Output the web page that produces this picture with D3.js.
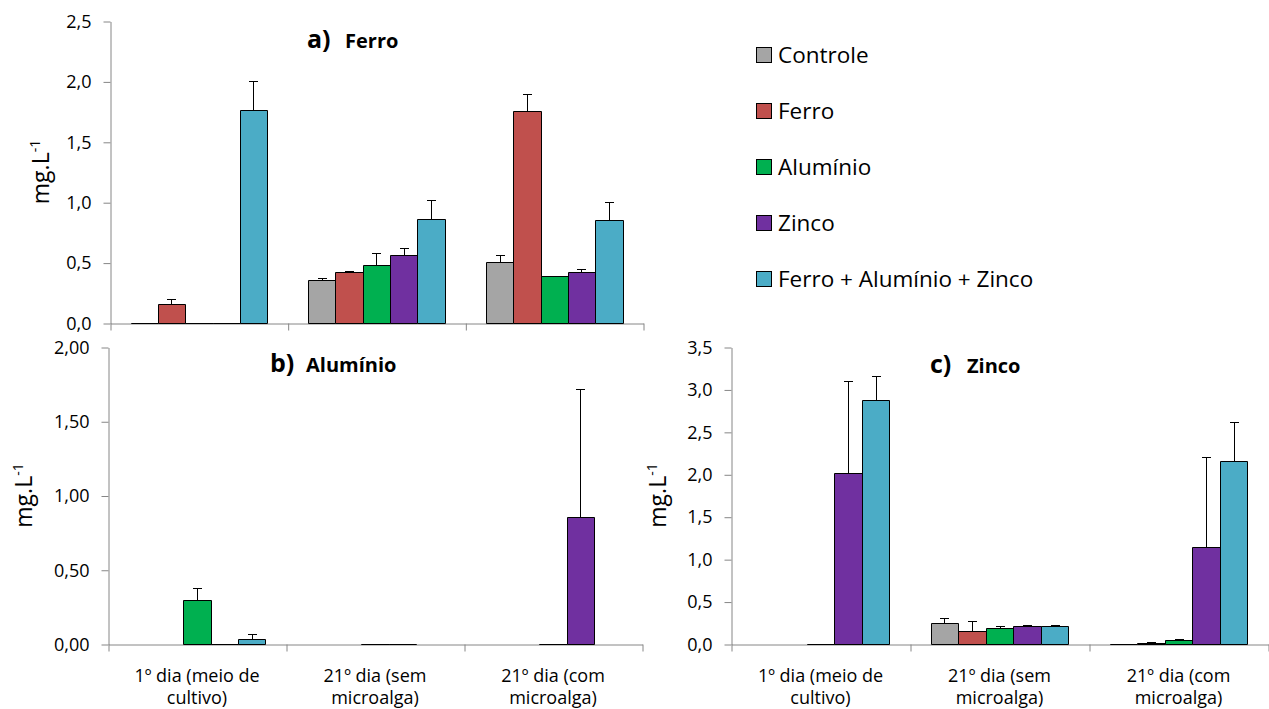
<!DOCTYPE html>
<html>
<head>
<meta charset="utf-8">
<script src="https://cdn.jsdelivr.net/npm/d3@7/dist/d3.min.js"></script>
<style>
  html, body { margin: 0; padding: 0; background: #fff; }
  svg { display: block; font-family: "Open Sans", "DejaVu Sans", sans-serif; }
</style>
</head>
<body>
<svg id="chart" width="1269" height="709"></svg>
<script>
// ---------- DATA ----------
const categories = ["1º dia (meio de cultivo)", "21º dia (sem microalga)", "21º dia (com microalga)"];
const categoryLines = [["1º dia (meio de", "cultivo)"], ["21º dia (sem", "microalga)"], ["21º dia (com", "microalga)"]];
const seriesNames = ["Controle", "Ferro", "Alumínio", "Zinco", "Ferro + Alumínio + Zinco"];
const seriesColors = ["#A5A5A5", "#C0504D", "#00B050", "#7030A0", "#4BACC6"];

// a) Ferro  (values per series, over the 3 categories)
const ferroValues = [
  [0, 0.356, 0.507],
  [0.157, 0.420, 1.752],
  [0, 0.478, 0.386],
  [0, 0.565, 0.420],
  [1.763, 0.861, 0.850]
];
const ferroErrors = [
  [0, 0.014, 0.058],
  [0.038, 0.013, 0.144],
  [0, 0.099, 0.004],
  [0, 0.055, 0.025],
  [0.237, 0.155, 0.154]
];
const ferroTicks = [0, 0.5, 1.0, 1.5, 2.0, 2.5];

// b) Alumínio
const aluminioValues = [
  [null, null, null],
  [null, null, null],
  [0.295, 0.003, 0],
  [0, 0.003, 0.857],
  [0.036, null, null]
];
const aluminioErrors = [
  [0, 0, 0],
  [0, 0, 0],
  [0.083, 0, 0],
  [0, 0, 0.862],
  [0.034, 0, 0]
];
const aluminioTicks = [0, 0.5, 1.0, 1.5, 2.0];

// c) Zinco
const zincoValues = [
  [null, 0.247, 0],
  [null, 0.157, 0.016],
  [0, 0.185, 0.044],
  [2.015, 0.216, 1.140],
  [2.875, 0.216, 2.157]
];
const zincoErrors = [
  [0, 0.063, 0],
  [0, 0.110, 0.002],
  [0, 0.031, 0.016],
  [1.081, 0.004, 1.064],
  [0.283, 0.004, 0.456]
];
const zincoTicks = [0, 0.5, 1.0, 1.5, 2.0, 2.5, 3.0, 3.5];

// ---------- LAYOUT ----------
const svg = d3.select("#chart");
svg.append("rect").attr("width", 1269).attr("height", 709).attr("fill", "#fff");

const axisColor = "#868686";
const comma = f => (v => f(v).replace(".", ","));

const panels = [
  { values: ferroValues, errors: ferroErrors, ticks: ferroTicks, fmt: comma(d3.format(".1f")),
    left: 110, right: 643, top: 21, bottom: 323,
    tag: "a)", name: "Ferro", tagX: 307, nameX: 345, titleY: 48,
    ylabX: 49, showLabels: false },
  { values: aluminioValues, errors: aluminioErrors, ticks: aluminioTicks, fmt: comma(d3.format(".2f")),
    left: 108, right: 642, top: 347, bottom: 644,
    tag: "b)", name: "Alumínio", tagX: 270, nameX: 306, titleY: 372,
    ylabX: 32, showLabels: true },
  { values: zincoValues, errors: zincoErrors, ticks: zincoTicks, fmt: comma(d3.format(".1f")),
    left: 731, right: 1268, top: 347, bottom: 644,
    tag: "c)", name: "Zinco", tagX: 930, nameX: 967, titleY: 373,
    ylabX: 666, showLabels: true }
];

panels.forEach(p => {
  const g = svg.append("g");
  const yMax = p.ticks[p.ticks.length - 1];
  const y = d3.scaleLinear().domain([0, yMax]).range([p.bottom, p.top]);
  const x0 = d3.scaleBand().domain(categories).range([p.left, p.right]).paddingInner(0).paddingOuter(0);
  const cw = x0.bandwidth();
  const barW = cw / 6.5;                       // Excel gap width 150%
  const gap = cw - barW * 5;
  const x1 = d3.scaleBand().domain(seriesNames).range([gap / 2, cw - gap / 2]).padding(0);
  const xb = d3.scaleLinear().domain([0, categories.length]).range([p.left, p.right]);

  // Y axis
  const yAxis = g.append("g").attr("transform", `translate(${p.left + 0.5},0.5)`)
    .call(d3.axisLeft(y).tickValues(p.ticks).tickFormat(p.fmt).tickSize(7).tickSizeOuter(0).tickPadding(12));
  yAxis.select(".domain").attr("stroke", axisColor);
  yAxis.selectAll(".tick line").attr("stroke", axisColor);
  yAxis.selectAll(".tick text").attr("fill", "#000").style("font-size", "18px").style("font-family", "'Open Sans', sans-serif");

  // X axis (category boundaries)
  const xAxis = g.append("g").attr("transform", `translate(0.5,${p.bottom + 0.5})`)
    .call(d3.axisBottom(xb).tickValues(d3.range(categories.length + 1)).tickFormat("").tickSize(7).tickSizeOuter(0));
  xAxis.select(".domain").attr("stroke", axisColor);
  xAxis.selectAll(".tick line").attr("stroke", axisColor);

  // Category labels
  if (p.showLabels) {
    categories.forEach((c, i) => {
      const t = g.append("text").attr("x", x0(c) + cw / 2).attr("y", p.bottom + 38)
        .attr("text-anchor", "middle").style("font-size", "18px").attr("fill", "#000");
      categoryLines[i].forEach((ln, k) => {
        t.append("tspan").attr("x", x0(c) + cw / 2).attr("dy", k === 0 ? 0 : 22).text(ln);
      });
    });
  }

  // Bars
  seriesNames.forEach((s, j) => {
    categories.forEach((c, i) => {
      const v = p.values[j][i];
      if (v === null) return;
      const xl = Math.round(x0(c) + x1(s)) + 0.5;
      const xr = Math.round(x0(c) + x1(s) + barW) + 0.5;
      const yb = Math.round(y(0)) + 0.5;
      const yt = Math.round(y(v)) + 0.5;
      g.append("path")
        .attr("d", `M${xl},${yb}V${yt}H${xr}V${yb}Z`)
        .attr("fill", seriesColors[j])
        .attr("stroke", "#000").attr("stroke-width", 1);
    });
  });

  // Error bars (upper only, with cap)
  seriesNames.forEach((s, j) => {
    categories.forEach((c, i) => {
      const v = p.values[j][i];
      const e = p.errors[j][i];
      if (v === null || !e) return;
      const cx = Math.round(x0(c) + x1(s) + barW / 2) + 0.5;
      const ya = Math.round(y(v)) + 0.5;
      const yt = Math.round(y(v + e)) + 0.5;
      g.append("line").attr("x1", cx).attr("x2", cx).attr("y1", ya).attr("y2", yt)
        .attr("stroke", "#000").attr("stroke-width", 1);
      g.append("line").attr("x1", cx - 4.5).attr("x2", cx + 4.5).attr("y1", yt).attr("y2", yt)
        .attr("stroke", "#000").attr("stroke-width", 1);
    });
  });

  // Y label
  const yl = g.append("text")
    .attr("transform", `translate(${p.ylabX},${(p.top + p.bottom) / 2}) rotate(-90)`)
    .attr("text-anchor", "middle").style("font-size", "23px").attr("fill", "#000");
  yl.append("tspan").text("mg.L");
  yl.append("tspan").attr("dy", -9).style("font-size", "14px").text("-1");

  // Title
  g.append("text").attr("x", p.tagX).attr("y", p.titleY).style("font-size", "25px")
    .style("font-weight", "700").attr("fill", "#000").text(p.tag);
  g.append("text").attr("x", p.nameX).attr("y", p.titleY).style("font-size", "20px")
    .style("font-weight", "700").attr("fill", "#000").text(p.name);
});

// Legend
const legend = svg.append("g").attr("transform", "translate(756,55)");
seriesNames.forEach((s, j) => {
  const row = legend.append("g").attr("transform", `translate(0,${j * 56})`);
  row.append("rect").attr("x", 0.5).attr("y", -7.5).attr("width", 15).attr("height", 15)
    .attr("fill", seriesColors[j]).attr("stroke", "#000").attr("stroke-width", 1);
  row.append("text").attr("x", 22).attr("y", 8).style("font-size", "22.5px").attr("fill", "#000").text(s);
});
</script>
</body>
</html>
